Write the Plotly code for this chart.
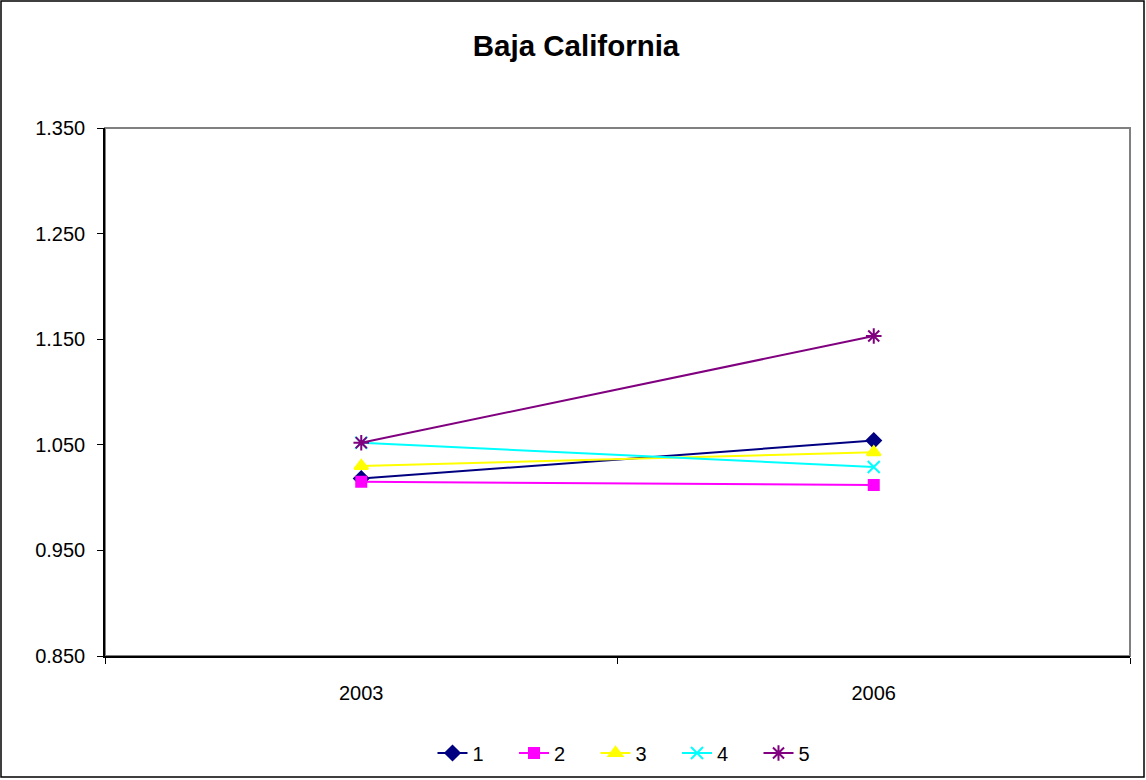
import plotly.graph_objects as go

years = ["2003", "2006"]
series_names = ["1", "2", "3", "4", "5"]
s1 = [1.018, 1.054]
s2 = [1.015, 1.012]
s3 = [1.030, 1.043]
s4 = [1.052, 1.029]
s5 = [1.052, 1.153]
y_ticks = [0.85, 0.95, 1.05, 1.15, 1.25, 1.35]

values = [s1, s2, s3, s4, s5]
colors = ["#000080", "#FF00FF", "#FFFF00", "#00FFFF", "#800080"]
symbols = ["diamond", "square", "triangle-up", "x-thin-open", "asterisk-open"]
sizes = [11, 10, 12, 12, 13]

fig = go.Figure()
for name, vals, c, sym, sz in zip(series_names, values, colors, symbols, sizes):
    fig.add_trace(go.Scatter(
        x=years, y=vals, name=name, mode="lines+markers",
        line=dict(color=c, width=2),
        marker=dict(symbol=sym, size=sz, color=c, line=dict(color=c, width=2)),
    ))

L, R, T, B = 105, 16, 128, 124
W, H = 1146, 780
pw, ph = W - L - R, H - T - B

def px_x(x):
    return (x - L) / pw

def px_y(y):
    return (H - B - y) / ph

fig.update_layout(
    width=W, height=H, autosize=False,
    margin=dict(l=L, r=R, t=T, b=B, autoexpand=False),
    paper_bgcolor="white", plot_bgcolor="white",
    font=dict(family="Liberation Sans, Arial, sans-serif", color="black", size=20),
    title=dict(text="<b>Baja California</b>", x=576 / W, xanchor="center",
               y=1 - 46 / H, yanchor="middle",
               font=dict(size=29.5, family="Liberation Sans, Arial, sans-serif")),
    showlegend=True,
    legend=dict(orientation="h", x=0.5 + 19 / pw, xanchor="center",
                yref="container", y=1 - 753 / H, yanchor="middle",
                font=dict(size=20), entrywidth=36.5, entrywidthmode="pixels",
                tracegroupgap=0),
    xaxis=dict(type="category", range=[-0.5, 1.5], tickson="boundaries",
               ticks="outside", ticklen=6, tickcolor="black", automargin=False,
               showline=True, linecolor="black", linewidth=1.5,
               showgrid=False, zeroline=False, ticklabelstandoff=18,
               tickfont=dict(size=20)),
    yaxis=dict(range=[0.85, 1.35], tickvals=y_ticks, tickformat=".3f",
               ticks="outside", ticklen=6, tickcolor="black", automargin=False,
               showline=True, linecolor="black", linewidth=1.5,
               showgrid=False, zeroline=False, tickfont=dict(size=20),
               ticklabelstandoff=8),
    shapes=[
        dict(type="rect", xref="paper", yref="paper", x0=0, x1=1, y0=0, y1=1,
             line=dict(color="#808080", width=2), layer="below"),
        dict(type="rect", xref="paper", yref="paper",
             x0=px_x(1), x1=px_x(1144), y0=px_y(777), y1=px_y(1),
             line=dict(color="black", width=1.5), layer="below"),
    ],
)

fig.write_html(
    "out.html",
    config={"displayModeBar": False, "responsive": False},
    post_script=(
        "document.documentElement.style.margin='0';"
        "document.documentElement.style.overflow='hidden';"
        "document.body.style.margin='0';"
        "document.body.style.overflow='hidden';"
    ),
)
